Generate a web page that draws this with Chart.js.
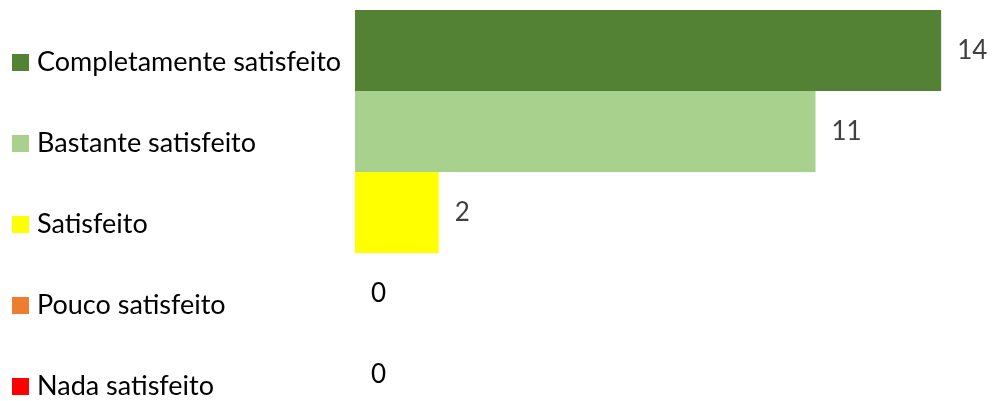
<!DOCTYPE html>
<html>
<head>
<meta charset="utf-8">
<script src="https://cdn.jsdelivr.net/npm/chart.js@4/dist/chart.umd.min.js"></script>
<style>
  html, body { margin: 0; padding: 0; background: #fff; overflow: hidden; }
</style>
</head>
<body>
<canvas id="myChart" width="992" height="416"></canvas>
<script>
const categories = ["Completamente satisfeito", "Bastante satisfeito", "Satisfeito", "Pouco satisfeito", "Nada satisfeito"];
const counts = [14, 11, 2, 0, 0];
const colors = ["#548235", "#A9D18E", "#FFFF00", "#ED7D31", "#FF0000"];

const FONT = "Lato, 'Liberation Sans', sans-serif";

// legend on the left, one entry per category
const leftLegend = {
  id: 'leftLegend',
  afterDraw(chart) {
    const ctx = chart.ctx;
    const y = chart.scales.y;
    ctx.save();
    ctx.font = "27px " + FONT;
    ctx.textBaseline = 'middle';
    ctx.textAlign = 'left';
    categories.forEach((c, i) => {
      const py = y.getPixelForValue(i) + 12;
      ctx.fillStyle = colors[i];
      ctx.fillRect(12, py - 8.5, 17, 17);
      ctx.fillStyle = '#000';
      ctx.fillText(c, 37, py);
    });
    ctx.restore();
  }
};

// value labels to the right of each bar
const valueLabels = {
  id: 'valueLabels',
  afterDatasetsDraw(chart) {
    const ctx = chart.ctx;
    const meta = chart.getDatasetMeta(0);
    ctx.save();
    ctx.font = "26px " + FONT;
    ctx.textBaseline = 'middle';
    ctx.textAlign = 'left';
    meta.data.forEach((bar, i) => {
      ctx.fillStyle = counts[i] === 0 ? '#000' : '#404040';
      ctx.fillText(String(counts[i]), bar.x + 16, bar.y);
    });
    ctx.restore();
  }
};

new Chart(document.getElementById('myChart'), {
  type: 'bar',
  data: {
    labels: categories,
    datasets: [{
      data: counts,
      backgroundColor: colors,
      borderWidth: 0,
      inflateAmount: 0,
      categoryPercentage: 1,
      barPercentage: 1
    }]
  },
  options: {
    indexAxis: 'y',
    responsive: false,
    animation: false,
    layout: { padding: { left: 355, right: 9, top: 10, bottom: 1 } },
    plugins: { legend: { display: false }, tooltip: { enabled: false } },
    scales: {
      x: { min: 0, max: 15, display: false, grid: { display: false } },
      y: { display: false, grid: { display: false } }
    }
  },
  plugins: [leftLegend, valueLabels]
});
</script>
</body>
</html>
